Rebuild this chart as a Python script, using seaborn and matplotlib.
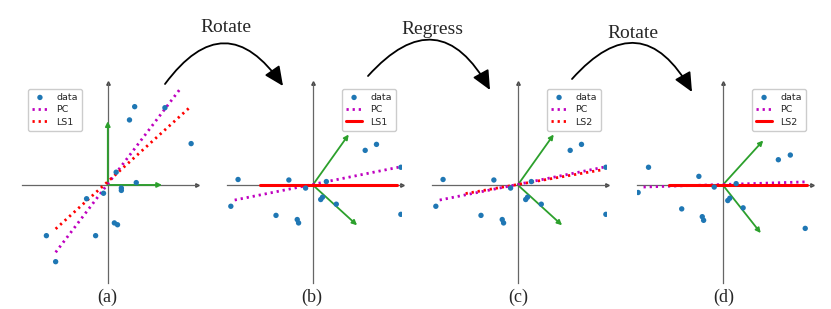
import numpy as np
import pandas as pd
import seaborn as sns
import matplotlib.pyplot as plt
from matplotlib.patches import FancyArrowPatch

sns.set_style("white")
plt.rcParams['font.family'] = ['DejaVu Sans']

# ---- data, one set per panel ----
a_x = [1.19, 2.53, 0.96, 3.69, 0.37, 1.26, 0.60, 0.60, -0.19, -0.94, 0.29, 0.43, -2.72, -0.54, -2.31]
a_y = [3.01, 2.97, 2.50, 1.59, 0.49, 0.09, -0.12, -0.21, -0.32, -0.53, -1.46, -1.53, -1.95, -1.95, -2.95]

b_x = [-3.31, -3.63, -1.06, -1.63, -0.69, -0.63, -0.32, 0.60, 0.35, 0.43, 1.04, 2.32, 2.82, 3.90, 3.90]
b_y = [0.21, -0.82, 0.19, -1.17, -1.33, -1.46, -0.12, 0.13, -0.56, -0.47, -0.74, 1.33, 1.56, -1.13, 0.68]

d_x = [-3.29, -3.75, -1.06, -1.82, -0.91, -0.85, -0.38, 0.59, 0.22, 0.31, 0.90, 2.46, 2.99, 3.65]
d_y = [0.68, -0.29, 0.33, -0.92, -1.22, -1.36, -0.08, 0.05, -0.60, -0.51, -0.88, 0.97, 1.15, -1.67]

pc_a = ([-2.31, 3.22], [-2.59, 3.71])
ls1_a = ([-2.31, 3.69], [-1.69, 3.03])
pc_b = ([-3.46, 3.79], [-0.58, 0.68])
ls1_b = ([-2.34, 3.75], [0.0, 0.0])
ls2_c = ([-2.31, 3.79], [-0.33, 0.59])
pc_d = ([-3.51, 3.74], [-0.08, 0.12])
ls2_d = ([-2.37, 3.74], [0.0, 0.0])

basis_a = [(2.4, 0.0), (0.0, 2.45)]
basis_b = [(1.59, 1.94), (1.96, -1.55)]
basis_d = [(1.79, 1.71), (1.68, -1.85)]

panel_labels = ['(a)', '(b)', '(c)', '(d)']
step_labels = ['Rotate', 'Regress', 'Rotate']

W, H = 831, 309
fig = plt.figure(figsize=(W / 100, H / 100), dpi=100)

dotted = (0, (0.8, 1.4))


def px(x, y):
    return x / W, 1 - y / H


def setup(ax):
    ax.set_xlim(-3.8, 3.95)
    ax.set_ylim(-3.77, 3.92)
    for s in ['top', 'right']:
        ax.spines[s].set_visible(False)
    for s in ['left', 'bottom']:
        ax.spines[s].set_position(('data', 0))
        ax.spines[s].set_color('#666666')
        ax.spines[s].set_linewidth(0.9)
    ax.set_xticks([-3, -2, -1, 1, 2, 3])
    ax.set_yticks([-3, -2, -1, 1, 2, 3])
    ax.tick_params(direction='inout', length=3, width=0.6, colors='#666666',
                   labelbottom=False, labelleft=False)
    ax.plot(1, 0, '>', color='#444444', ms=2.5, transform=ax.get_yaxis_transform(), clip_on=False)
    ax.plot(0, 1, '^', color='#444444', ms=2.5, transform=ax.get_xaxis_transform(), clip_on=False)
    ax.set_xlabel('')
    ax.set_ylabel('')


def panel(left, xs, ys, pc, ls, ls_name, ls_solid, basis, loc):
    ax = fig.add_axes([left / W, 26 / H, 175 / W, 200 / H])
    setup(ax)
    for tx, ty in basis:
        ax.annotate('', xy=(tx, ty), xytext=(0, 0),
                    arrowprops=dict(arrowstyle='-|>', color='#2ca02c', lw=1.3,
                                    mutation_scale=7, shrinkA=0, shrinkB=0), zorder=3)
    sns.scatterplot(x=xs, y=ys, ax=ax, color='#1f77b4', s=15, edgecolor='none',
                    label='data', zorder=5)
    sns.lineplot(x=pc[0], y=pc[1], ax=ax, color='m', lw=2, linestyle=dotted,
                 label='PC', sort=False, estimator=None, zorder=4)
    if ls_solid:
        sns.lineplot(x=ls[0], y=ls[1], ax=ax, color='red', lw=2.2, label=ls_name,
                     sort=False, estimator=None, zorder=4)
    else:
        sns.lineplot(x=ls[0], y=ls[1], ax=ax, color='red', lw=2, linestyle=dotted,
                     label=ls_name, sort=False, estimator=None, zorder=4)
    ax.set_xlim(-3.8, 3.95)
    ax.set_ylim(-3.77, 3.92)
    ax.legend(loc=loc, fontsize=6.8, borderaxespad=0.6, handlelength=1.7,
              handletextpad=0.9, labelspacing=0.35, borderpad=0.45,
              framealpha=1, edgecolor='#cccccc')
    return ax


panel(22, a_x, a_y, pc_a, ls1_a, 'LS1', False, basis_a, 'upper left')
panel(227, b_x, b_y, pc_b, ls1_b, 'LS1', True, basis_b, 'upper right')
panel(432, b_x, b_y, pc_b, ls2_c, 'LS2', False, basis_b, 'upper right')
panel(637, d_x, d_y, pc_d, ls2_d, 'LS2', True, basis_d, 'upper right')

serif = ['Liberation Serif', 'DejaVu Serif']
for lab, cx in zip(panel_labels, [107, 312, 518, 724]):
    fig.text(*px(cx, 297), lab, ha='center', va='center', fontsize=13, family=serif)

arcs = [((165, 84), (283, 86)), ((368, 76), (490, 90)), ((572, 79), (692, 92))]
text_pos = [(226, 28), (432, 30), (633, 33)]
for (p0, p1), lab, tp in zip(arcs, step_labels, text_pos):
    arr = FancyArrowPatch(px(*p0), px(*p1), transform=fig.transFigure,
                          connectionstyle='arc3,rad=-0.7',
                          arrowstyle='-|>,head_length=0.65,head_width=0.3',
                          mutation_scale=18, lw=1.3, color='black',
                          shrinkA=0, shrinkB=0)
    fig.add_artist(arr)
    fig.text(*px(*tp), lab, ha='center', va='center', fontsize=14, family=serif)

fig.savefig('out.png', dpi=100)
